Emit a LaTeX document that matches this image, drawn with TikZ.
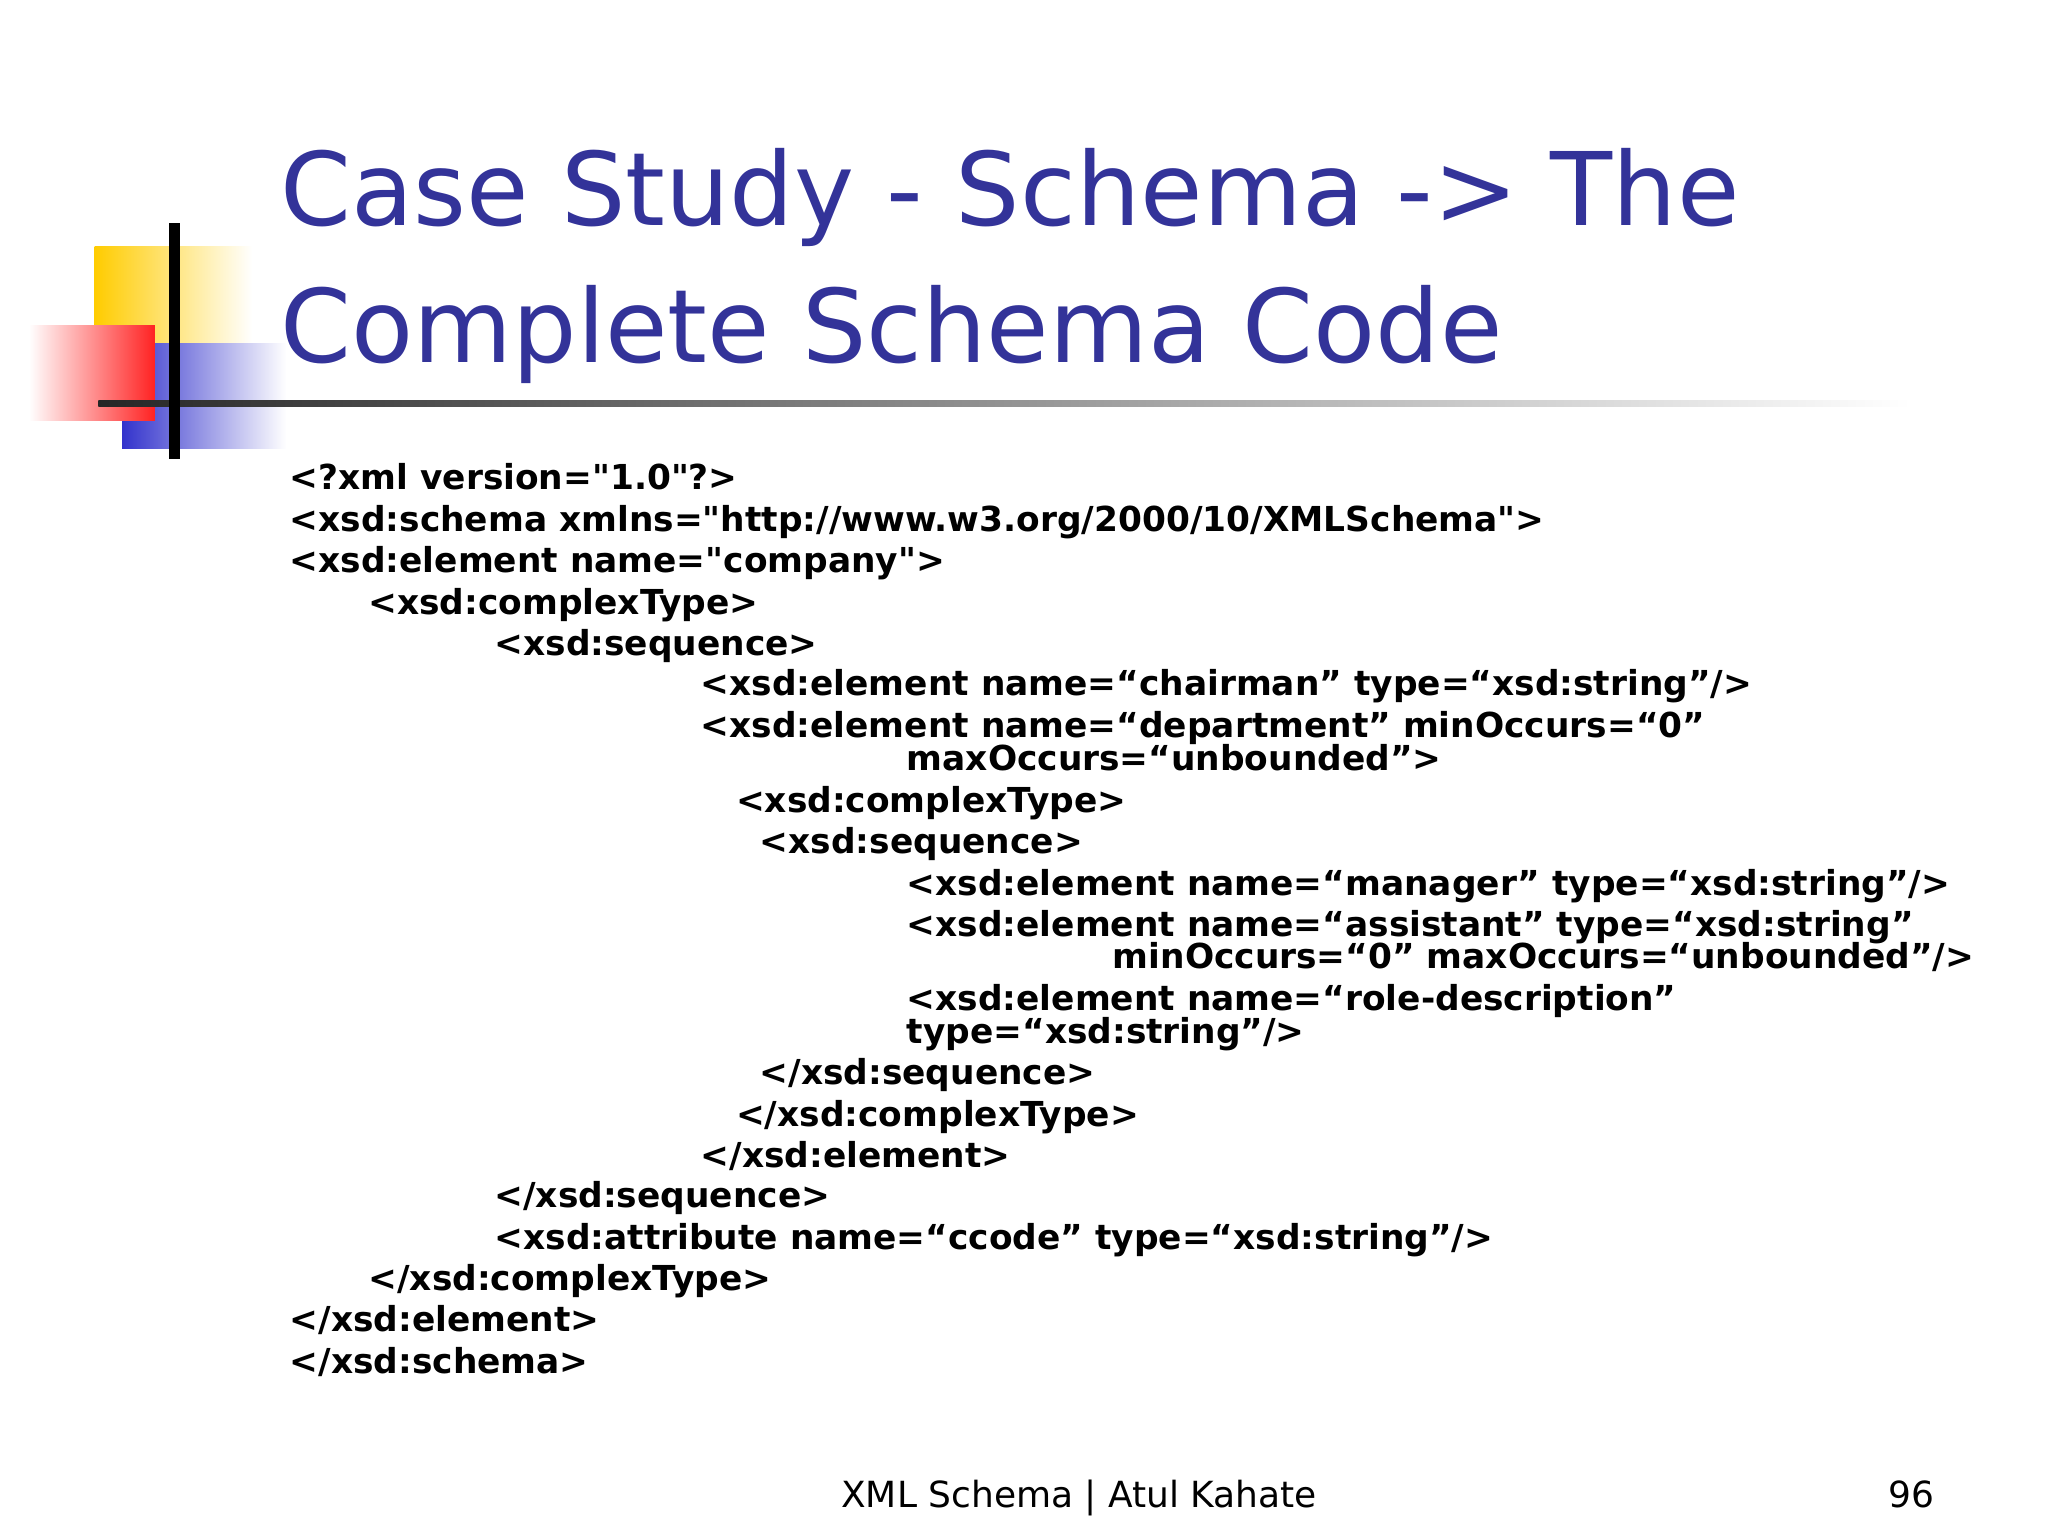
\documentclass[tikz,border=0pt]{standalone}
\usepackage{fontspec}
\setmainfont{DejaVu Sans}[Ligatures=TeXOff]
\newfontfamily\titlefont{DejaVu Sans}
\usetikzlibrary{shadings}
\definecolor{titleblue}{HTML}{333399}
\definecolor{sqyellow}{HTML}{FFCC00}
\definecolor{sqblue}{HTML}{3333CC}
\definecolor{sqred}{HTML}{FF2222}
\newcommand\sq{\symbol{34}}
\begin{document}
\begin{tikzpicture}[x=0.01cm,y=-0.01cm,
  code/.style={anchor=base west,inner sep=0,font=\fontsize{7.45pt}{9pt}\selectfont\bfseries},
  ttl/.style={anchor=base west,inner sep=0,text=titleblue,font=\titlefont\fontsize{22pt}{26pt}\selectfont}]
\useasboundingbox (0,0) rectangle (1560,1170);
\fill[left color=sqyellow,right color=white] (72,188) rectangle (192,300);
\fill[left color=sqblue,right color=white] (93,262) rectangle (218,342);
\fill[left color=white,right color=sqred] (22,248) rectangle (118,320);
\shade[left color=black!85,right color=white] (75,305) rectangle (1455,310);
\draw[line width=2.5pt] (133,170) -- (133,350);
\node[ttl] (t1) at (213,172) {Case Study - Schema -> The};
\node[ttl] (t2) at (213,276) {Complete Schema Code};
\foreach \x/\y/\t [count=\i] in {
220/373/{<?xml version=\sq1.0\sq?>},
220/405/{<xsd:schema xmlns=\sq http://www.w3.org/2000/10/XMLSchema\sq>},
220/436/{<xsd:element name=\sq company\sq>},
280/468/{<xsd:complexType>},
376/499/{<xsd:sequence>},
533/530/{<xsd:element name=“chairman” type=“xsd:string”/>},
533/562/{<xsd:element name=“department” minOccurs=“0”},
690/587/{maxOccurs=“unbounded”>},
560/619/{<xsd:complexType>},
578/650/{<xsd:sequence>},
690/682/{<xsd:element name=“manager” type=“xsd:string”/>},
690/713/{<xsd:element name=“assistant” type=“xsd:string”},
847/738/{minOccurs=“0” maxOccurs=“unbounded”/>},
690/770/{<xsd:element name=“role-description”},
690/795/{type=“xsd:string”/>},
578/826/{</xsd:sequence>},
560/858/{</xsd:complexType>},
533/889/{</xsd:element>},
376/920/{</xsd:sequence>},
376/952/{<xsd:attribute name=“ccode” type=“xsd:string”/>},
280/983/{</xsd:complexType>},
220/1014/{</xsd:element>},
220/1046/{</xsd:schema>}}
  \node[code] (c\i) at (\x,\y) {\t};
\node[anchor=base,inner sep=0,font=\fontsize{7.8pt}{10pt}\selectfont] (f1) at (822,1148) {XML Schema | Atul Kahate};
\node[anchor=base east,inner sep=0,font=\fontsize{7.8pt}{10pt}\selectfont] (f2) at (1474,1148) {96};
\end{tikzpicture}
\end{document}
